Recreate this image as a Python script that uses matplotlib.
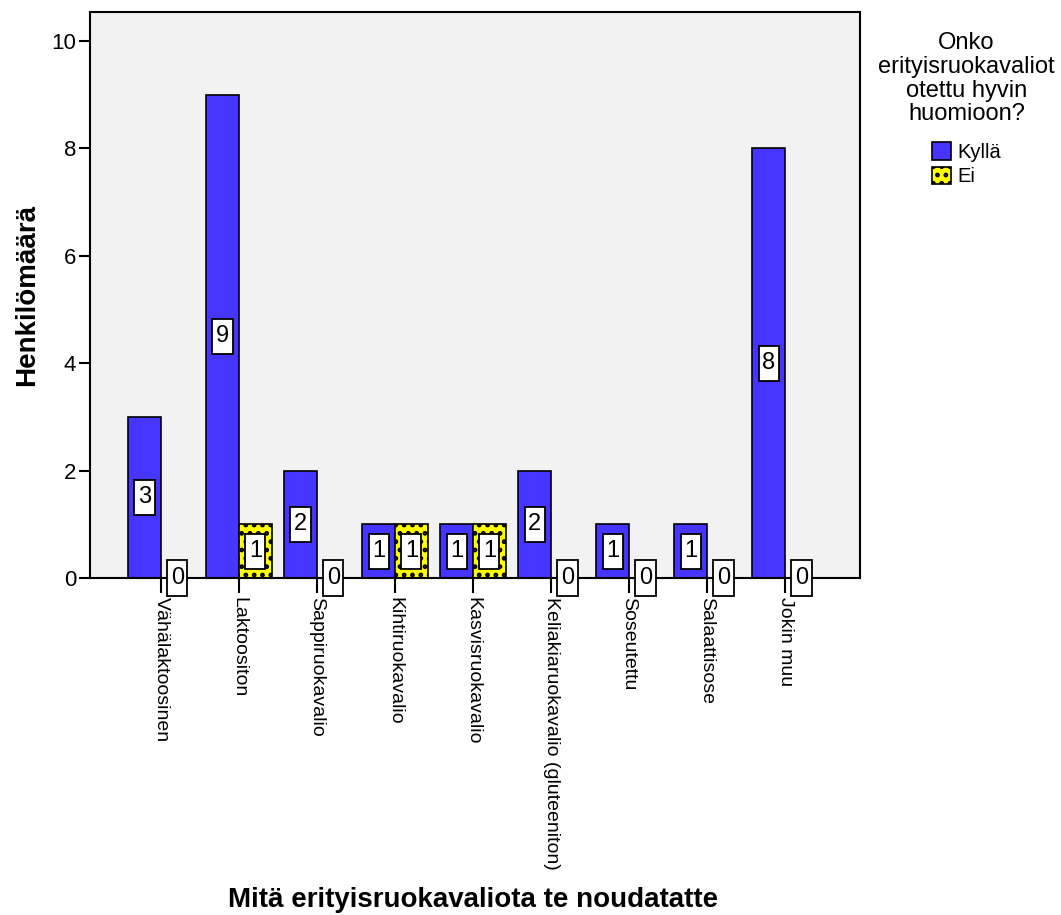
import matplotlib.pyplot as plt
import numpy as np
from matplotlib.path import Path

plt.rcParams['font.family'] = ['Liberation Sans', 'DejaVu Sans']
plt.rcParams['hatch.linewidth'] = 2.2

categories = [
    "Vähälaktoosinen",
    "Laktoositon",
    "Sappiruokavalio",
    "Kihtiruokavalio",
    "Kasvisruokavalio",
    "Keliakiaruokavalio (gluteeniton)",
    "Soseutettu",
    "Salaattisose",
    "Jokin muu",
]
kylla = [3, 9, 2, 1, 1, 2, 1, 1, 8]
ei = [0, 1, 0, 1, 1, 0, 0, 0, 0]

series_names = ["Kyllä", "Ei"]
legend_title = "Onko\nerityisruokavaliot\notettu hyvin\nhuomioon?"


def tall_box(x0, y0, width, height, mutation_size):
    """Rectangle with more padding above/below than at the sides."""
    px = 0.15 * mutation_size
    py = 0.28 * mutation_size
    x0, x1 = x0 - px, x0 + width + px
    y0, y1 = y0 - py, y0 + height + py
    return Path([(x0, y0), (x1, y0), (x1, y1), (x0, y1), (x0, y0)],
                closed=True)


def main():
    fig = plt.figure(figsize=(10.61, 9.15), dpi=100)
    ax = fig.add_axes([0.0848, 0.3683, 0.7257, 0.6186])
    ax.set_facecolor("#f2f2f2")

    x = np.arange(len(categories))
    w = 0.42
    b1 = ax.bar(x - w / 2, kylla, w, color="#4634ff", edgecolor="black",
                linewidth=1.2, label=series_names[0], zorder=2)
    b2 = ax.bar(x + w / 2, ei, w, color="#ffff00", edgecolor="black",
                linewidth=1.2, hatch="..", label=series_names[1], zorder=2)

    # value labels in white boxes at half bar height
    box = dict(boxstyle=tall_box, facecolor="white",
               edgecolor="black", linewidth=1.3)
    for bars, vals in ((b1, kylla), (b2, ei)):
        for rect, v in zip(bars, vals):
            ax.text(rect.get_x() + rect.get_width() / 2, v / 2, str(v),
                    ha="center", va="center", fontsize=17, bbox=box,
                    zorder=4, clip_on=False)

    ax.set_xlim(-0.91, 8.96)
    ax.set_ylim(0, 10.54)
    ax.set_yticks([0, 2, 4, 6, 8, 10])
    ax.set_xticks(x)
    ax.set_xticklabels(categories, rotation=-90, ha="center", va="top",
                       fontsize=14)
    ax.tick_params(axis="y", labelsize=16, length=8, width=1.5, pad=2)
    ax.tick_params(axis="x", length=11, width=1.5, pad=3)
    for s in ax.spines.values():
        s.set_linewidth(1.5)

    ax.set_ylabel("Henkilömäärä", fontsize=20, fontweight="bold", labelpad=8)
    fig.text(0.4458, 0.0164, "Mitä erityisruokavaliota te noudatatte",
             ha="center", va="center", fontsize=20, fontweight="bold")

    leg = ax.legend(title=legend_title, loc="upper left",
                    bbox_to_anchor=(1.0, 0.996), frameon=False, fontsize=14.5,
                    title_fontsize=17, handlelength=0.95, handleheight=0.95,
                    handletextpad=0.3, labelspacing=0.25,
                    alignment="center")
    leg.get_title().set_ha("center")
    leg.get_title().set_linespacing(1.1)
    leg._legend_box.sep = 12

    fig.savefig("out.png", dpi=100)


if __name__ == "__main__":
    main()
